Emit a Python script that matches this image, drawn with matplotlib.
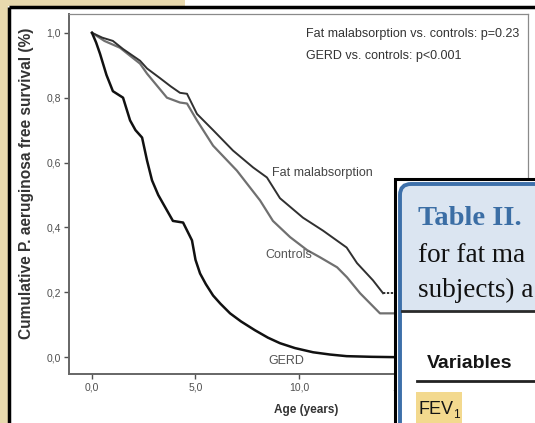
import numpy as np
import matplotlib.pyplot as plt
from matplotlib.patches import Rectangle, FancyBboxPatch

plt.rcParams['font.family'] = ['Liberation Sans', 'DejaVu Sans']

# Kaplan-Meier curves (age in years, survival fraction)
gerd_t = [0.0, 0.2, 0.39, 0.7, 1.01, 1.5, 1.84, 2.1, 2.42, 2.66, 2.9, 3.2, 3.43,
          3.91, 4.4, 4.83, 5.0, 5.22, 5.5, 5.85, 6.2, 6.67, 7.2, 7.87, 8.5, 9.08,
          9.8, 10.68, 11.5, 12.3, 13.5, 14.6, 18.0]
gerd_s = [1.0, 0.97, 0.935, 0.87, 0.82, 0.80, 0.73, 0.70, 0.677, 0.606, 0.545, 0.50,
          0.474, 0.42, 0.415, 0.36, 0.30, 0.258, 0.225, 0.19, 0.165, 0.135, 0.11,
          0.083, 0.06, 0.043, 0.028, 0.015, 0.008, 0.003, 0.001, 0.0, 0.0]

fat_t = [0.0, 0.5, 1.01, 1.5, 2.32, 2.66, 3.29, 3.8, 4.25, 4.59, 5.07, 5.85, 6.81,
         7.78, 8.45, 9.08, 10.19, 11.16, 12.3, 12.8, 13.57, 14.06]
fat_s = [1.0, 0.985, 0.975, 0.95, 0.914, 0.89, 0.86, 0.835, 0.815, 0.812, 0.75, 0.70,
         0.637, 0.585, 0.554, 0.49, 0.43, 0.39, 0.338, 0.29, 0.237, 0.197]
fat_tail_t = [14.06, 16.0]
fat_tail_s = [0.197, 0.197]

ctrl_t = [0.0, 0.6, 1.35, 2.32, 2.66, 3.62, 4.25, 4.59, 5.07, 5.85, 7.0, 8.12, 8.74,
          9.57, 10.39, 11.01, 11.84, 12.32, 12.95, 13.91, 16.0]
ctrl_s = [1.0, 0.975, 0.954, 0.905, 0.874, 0.80, 0.785, 0.782, 0.73, 0.652, 0.575,
          0.483, 0.42, 0.37, 0.33, 0.308, 0.277, 0.246, 0.197, 0.135, 0.135]

x_ticks = [0, 5, 10, 15, 20]
x_labels = ['0,0', '5,0', '10,0', '15,0', '20,0']
y_ticks = [0.0, 0.2, 0.4, 0.6, 0.8, 1.0]
y_labels = ['0,0', '0,2', '0,4', '0,6', '0,8', '1,0']

W, H = 535, 423
fig = plt.figure(figsize=(W / 100, H / 100), dpi=100)

# background: beige page edge and black screenshot frame
bg = fig.add_axes([0, 0, 1, 1], zorder=0)
bg.set_xlim(0, W)
bg.set_ylim(H, 0)
bg.axis('off')
bg.add_patch(Rectangle((0, 0), 8, H, color='#e8d9ae', lw=0))
bg.add_patch(Rectangle((0, 0), 185, 6, color='#e8d9ae', lw=0))
bg.plot([8.5, W], [7, 7], color='black', lw=2.5, solid_capstyle='butt')
bg.plot([8.5, 8.5], [7, H], color='black', lw=2.5, solid_capstyle='butt')

# survival plot
l, t, r, b = 69, 14, 528, 374
ax = fig.add_axes([l / W, (H - b) / H, (r - l) / W, (b - t) / H], zorder=1)
ax.plot(ctrl_t, ctrl_s, color='#707070', lw=1.6)
ax.plot(fat_t, fat_s, color='#303030', lw=1.4)
ax.plot(fat_tail_t, fat_tail_s, color='#303030', lw=1.4, ls=(0, (1.2, 0.8)))
ax.plot(gerd_t, gerd_s, color='#111111', lw=1.8)

ax.set_xlim(-1.11, 21.06)
ax.set_ylim(-0.052, 1.058)
ax.set_xticks(x_ticks)
ax.set_xticklabels(x_labels)
ax.set_yticks(y_ticks)
ax.set_yticklabels(y_labels)
ax.tick_params(labelsize=7.5, colors='#505050', length=3.5, width=1.0, pad=2.5)
for side in ['left', 'bottom']:
    ax.spines[side].set_color('#666666')
    ax.spines[side].set_linewidth(1.4)
for side in ['top', 'right']:
    ax.spines[side].set_color('#8a8a8a')
    ax.spines[side].set_linewidth(0.9)

ax.text(8.7, 0.569, 'Fat malabsorption', fontsize=9, color='#444444', va='center')
ax.text(8.36, 0.314, 'Controls', fontsize=9, color='#555555', va='center')
ax.text(8.5, -0.012, 'GERD', fontsize=9, color='#555555', va='center')
ax.text(10.34, 0.997, 'Fat malabsorption vs. controls: p=0.23', fontsize=9,
        color='#333333', va='center')
ax.text(10.34, 0.929, 'GERD vs. controls: p<0.001', fontsize=9,
        color='#333333', va='center')

fig.text(27 / W, 1 - 183 / H, 'Cumulative P. aeruginosa free survival (%)',
         rotation=90, fontsize=11.2, fontweight='bold', color='#333333',
         ha='center', va='center')
fig.text(306 / W, 1 - 410 / H, 'Age (years)', fontsize=8.5, fontweight='bold',
         color='#333333', ha='center', va='center')

# overlaid table snippet
ov = fig.add_axes([0, 0, 1, 1], zorder=5)
ov.set_xlim(0, W)
ov.set_ylim(H, 0)
ov.axis('off')
ov.add_patch(Rectangle((395, 179), 160, 260, facecolor='white',
                       edgecolor='black', lw=2.2))
ov.add_patch(FancyBboxPatch((400, 184), 160, 260,
                            boxstyle='round,pad=0,rounding_size=11',
                            facecolor='#dbe5f1', edgecolor='#3d70aa', lw=2.8))
ov.add_patch(Rectangle((401.5, 311), 140, 120, facecolor='white', lw=0))
ov.plot([401.5, W], [311, 311], color='#2a2a2a', lw=2)
ov.text(418, 225, 'Table II.', fontsize=20.5, fontweight='bold',
        family='Liberation Serif', color='#3b6ea5', va='baseline')
ov.text(418, 262, 'for fat ma', fontsize=19.5, family='Liberation Serif',
        color='#111111', va='baseline')
ov.text(418, 297, 'subjects) a', fontsize=19.5, family='Liberation Serif',
        color='#111111', va='baseline')
ov.text(427, 368, 'Variables', fontsize=14, fontweight='bold', color='#151515',
        va='baseline')
ov.plot([417, W], [381, 381], color='#222222', lw=2)
ov.add_patch(Rectangle((416, 392), 46, 35, facecolor='#f3d98e', lw=0))
ov.text(419, 414, 'FEV', fontsize=13, color='#151515', va='baseline')
ov.text(453, 418, '1', fontsize=8.5, color='#151515', va='baseline')

fig.savefig('out.png', dpi=100)
